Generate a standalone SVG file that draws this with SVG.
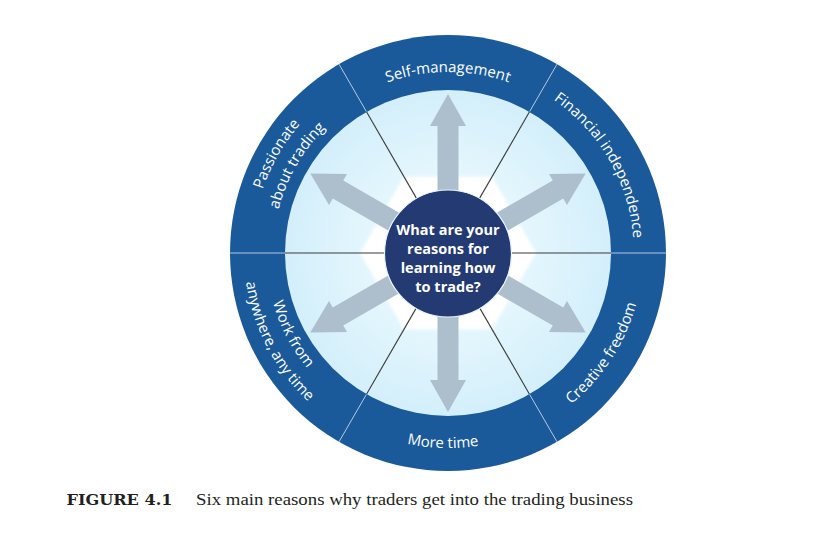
<svg xmlns="http://www.w3.org/2000/svg" width="830" height="548" viewBox="0 0 830 548">
<style>
.ring{fill:#1a5a9b}
.lbl{font-family:"Open Sans","Noto Sans",sans-serif;font-size:15px;fill:#ffffff}
.ctr{font-family:"Open Sans","Noto Sans",sans-serif;font-size:14.5px;font-weight:700;fill:#ffffff;text-anchor:middle}
.dark{stroke:#3a3a3a;stroke-width:1.1;fill:none}
.light{stroke:#c4d6ea;stroke-width:0.9;fill:none}
.arrow{fill:#adbfcc}
</style>
<defs>
<radialGradient id="inner" cx="448" cy="253" r="163" gradientUnits="userSpaceOnUse">
<stop offset="0.3" stop-color="#ebf9fe"/>
<stop offset="1" stop-color="#d3effb"/>
</radialGradient>
<filter id="soft" x="-20%" y="-20%" width="140%" height="140%"><feGaussianBlur stdDeviation="1.6"/></filter>
<path id="arrowShape" d="M50,-10.5 L127,-10.5 L127,-18 L159,0 L127,18 L127,10.5 L50,10.5 Z"/>
<path id="pSelf" d="M291.25,162.5 A181,181 0 0 1 604.75,162.5"/>
<path id="pFin" d="M448,67 A186,186 0 0 1 609.08,346"/>
<path id="pPas1" d="M278.27,351 A196,196 0 0 1 448,57"/>
<path id="pPas2" d="M296.45,340.5 A175,175 0 0 1 448,78"/>
<path id="pCre" d="M437.8,447.7 A195,195 0 0 0 621.75,164.47"/>
<path id="pMore" d="M276.6,346.05 A195,195 0 0 0 614.3,354.9"/>
<path id="pWork1" d="M294.5,155.2 A182,182 0 0 0 440.1,434.8"/>
<path id="pWork2" d="M275.9,143.4 A204,204 0 0 0 439.1,456.8"/>
</defs>
<rect width="830" height="548" fill="#ffffff"/>

<g id="wheel">
<circle class="ring" cx="448" cy="253" r="218"/>
<circle cx="448" cy="253" r="163" fill="url(#inner)"/>
<polygon points="536,253 492,176.8 404,176.8 360,253 404,329.2 492,329.2" fill="#ffffff" filter="url(#soft)"/>
<g id="dividers">
<line class="light" x1="230" y1="253" x2="285" y2="253"/>
<line class="light" x1="611" y1="253" x2="666" y2="253"/>
<line class="light" x1="339" y1="64.2" x2="366.5" y2="111.8"/>
<line class="light" x1="557" y1="64.2" x2="529.5" y2="111.8"/>
<line class="light" x1="339" y1="441.8" x2="366.5" y2="394.2"/>
<line class="light" x1="557" y1="441.8" x2="529.5" y2="394.2"/>
<line class="dark" x1="285" y1="253" x2="385" y2="253"/>
<line class="dark" x1="511" y1="253" x2="611" y2="253"/>
<line class="dark" x1="366.5" y1="111.8" x2="416.5" y2="198.4"/>
<line class="dark" x1="529.5" y1="111.8" x2="479.5" y2="198.4"/>
<line class="dark" x1="366.5" y1="394.2" x2="416.5" y2="307.6"/>
<line class="dark" x1="529.5" y1="394.2" x2="479.5" y2="307.6"/>
</g>
</g>

<g id="connectors">
<use href="#arrowShape" class="arrow" transform="translate(448 253) rotate(-90)"/>
<use href="#arrowShape" class="arrow" transform="translate(448 253) rotate(90)"/>
<use href="#arrowShape" class="arrow" transform="translate(448 253) rotate(-30)"/>
<use href="#arrowShape" class="arrow" transform="translate(448 253) rotate(30)"/>
<use href="#arrowShape" class="arrow" transform="translate(448 253) rotate(-150)"/>
<use href="#arrowShape" class="arrow" transform="translate(448 253) rotate(150)"/>
</g>

<g id="center">
<circle cx="448" cy="253.5" r="63.5" fill="#233a72" stroke="#e8f4fb" stroke-width="1.2"/>
<text class="ctr" x="448" y="235">What are your</text>
<text class="ctr" x="448" y="254">reasons for</text>
<text class="ctr" x="448" y="273">learning how</text>
<text class="ctr" x="448" y="292">to trade?</text>
</g>

<g id="self-management">
<text class="lbl" text-anchor="middle"><textPath href="#pSelf" startOffset="50%">Self-management</textPath></text>
</g>
<g id="financial-independence">
<text class="lbl" text-anchor="middle"><textPath href="#pFin" startOffset="50%">Financial independence</textPath></text>
</g>
<g id="creative-freedom">
<text class="lbl" text-anchor="middle"><textPath href="#pCre" startOffset="50%">Creative freedom</textPath></text>
</g>
<g id="more-time">
<text class="lbl" text-anchor="middle"><textPath href="#pMore" startOffset="50%">More time</textPath></text>
</g>
<g id="work-from-anywhere">
<text class="lbl" text-anchor="middle"><textPath href="#pWork1" startOffset="50%">Work from</textPath></text>
<text class="lbl" text-anchor="middle"><textPath href="#pWork2" startOffset="50%">anywhere, any time</textPath></text>
</g>
<g id="passionate">
<text class="lbl" text-anchor="middle"><textPath href="#pPas1" startOffset="50%">Passionate</textPath></text>
<text class="lbl" text-anchor="middle"><textPath href="#pPas2" startOffset="50%">about trading</textPath></text>
</g>

<g id="caption">
<text x="66.5" y="505" font-family="'DejaVu Serif',serif" font-weight="700" font-size="15.5" fill="#231f20" textLength="106" lengthAdjust="spacingAndGlyphs">FIGURE 4.1</text>
<text x="196" y="505" font-family="'Liberation Serif',serif" font-size="17" fill="#231f20" textLength="437" lengthAdjust="spacingAndGlyphs">Six main reasons why traders get into the trading business</text>
</g>
</svg>
